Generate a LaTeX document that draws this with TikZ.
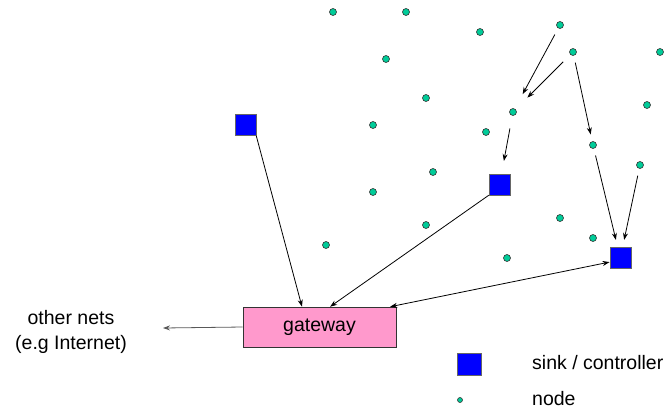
\documentclass[tikz,border=0pt]{standalone}
\usepackage{fontspec}
\setmainfont{Liberation Sans}
\usetikzlibrary{arrows.meta,calc}
\definecolor{dotgreen}{RGB}{0,204,153}
\definecolor{sinkblue}{RGB}{0,0,255}
\definecolor{gwpink}{RGB}{255,153,204}
\begin{document}
\begin{tikzpicture}[x=1pt,y=-1pt,
  sensor/.style={circle,draw=black!80,fill=dotgreen,line width=0.6pt,minimum size=7pt,inner sep=0pt},
  sink/.style={rectangle,draw=black!60,fill=sinkblue,line width=0.5pt,minimum size=21pt,inner sep=0pt},
  gatewaybox/.style={rectangle,draw=black!80,fill=gwpink,line width=0.6pt,minimum width=153pt,minimum height=40pt,inner sep=0pt,font=\fontsize{19.5}{23}\selectfont},
  caption/.style={font=\fontsize{19.5}{25}\selectfont,inner sep=0pt},
  link/.style={line width=0.8pt,-{Stealth[length=7pt,width=5pt]}},
]
\useasboundingbox (0,0) rectangle (670,416);

% sensor nodes
\node[sensor] (d1)  at (333,12)  {};
\node[sensor] (d2)  at (406,12)  {};
\node[sensor] (d3)  at (480,32)  {};
\node[sensor] (d4)  at (560,25)  {};
\node[sensor] (d5)  at (386,59)  {};
\node[sensor] (d6)  at (573,52)  {};
\node[sensor] (d7)  at (660,52)  {};
\node[sensor] (d8)  at (426,98)  {};
\node[sensor] (d9)  at (513,112) {};
\node[sensor] (d10) at (373,125) {};
\node[sensor] (d11) at (486,132) {};
\node[sensor] (d12) at (647,105) {};
\node[sensor] (d13) at (593,145) {};
\node[sensor] (d14) at (433,172) {};
\node[sensor] (d15) at (640,165) {};
\node[sensor] (d16) at (373,192) {};
\node[sensor] (d17) at (426,225) {};
\node[sensor] (d18) at (560,218) {};
\node[sensor] (d19) at (326,245) {};
\node[sensor] (d20) at (593,238) {};
\node[sensor] (d21) at (507,258) {};

% sinks / controllers
\node[sink] (s0) at (245.5,125) {};
\node[sink] (s1) at (499.5,184.5) {};
\node[sink] (s2) at (620.3,258) {};

% gateway and outside networks
\node[gatewaybox] (gw) at (319.5,327) {gateway};
\node[caption,align=center] (nets) at (71,332) {other nets\\(e.g Internet)};
\coordinate (netsend) at (163,328);

% multi-hop routes towards the sinks
\draw[link,shorten <=7pt,shorten >=16.5pt] (d4) -- (d9);
\draw[link,shorten <=10pt,shorten >=16.5pt] (d6) -- (d9);
\draw[link,shorten <=7pt,shorten >=7pt] (d6) -- (d13);
\draw[link,shorten <=13pt,shorten >=13pt] (d9) -- (s1);
\draw[link,shorten <=7pt,shorten >=7.5pt] (d13) -- (s2);
\draw[link,shorten <=7pt,shorten >=7.5pt] (d15) -- (s2);

% sinks to gateway
\draw[link] (s0.south east) -- ($(gw.north west)!0.386!(gw.north east)$);
\draw[link] (s1.south west) -- ($(gw.north west)!0.569!(gw.north east)$);
\draw[link,{Stealth[length=7pt,width=5pt]}-{Stealth[length=7pt,width=5pt]}]
  ($(gw.north west)!0.96!(gw.north east)$) -- ($(s2.north west)!0.69!(s2.south west)$);
\draw[link,draw=black!65] (gw.west) -- (netsend);

% legend
\node[sink,minimum width=24pt,minimum height=22pt] (legsink) at (469,364) {};
\node[caption,anchor=base west] (legsinktext) at (532,369) {sink / controller};
\node[sensor,minimum size=5pt] (legnode) at (460,400) {};
\node[caption,anchor=base west] (legnodetext) at (532,405) {node};
\end{tikzpicture}
\end{document}
